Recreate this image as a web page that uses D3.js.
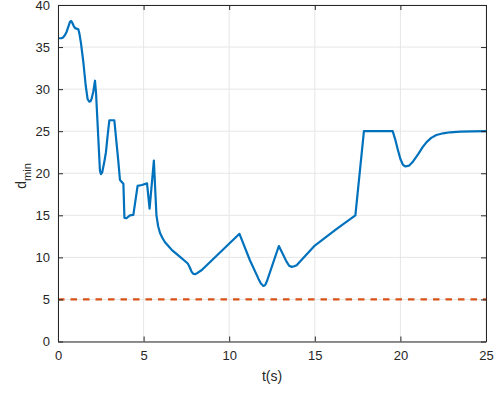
<!DOCTYPE html>
<html><head><meta charset="utf-8">
<script src="https://cdn.jsdelivr.net/npm/d3@7"></script>
<style>body{margin:0;background:#fff}svg{display:block}</style>
</head><body><svg id="c" width="496" height="416"></svg>
<script>
const timeS = [0,0.2,0.3,0.4,0.5,0.6,0.7,0.76,0.82,0.92,1.0,1.19,1.25,1.34,1.48,1.62,1.73,1.83,1.9,1.97,2.06,2.16,2.22,2.45,2.51,2.58,2.7,2.8,2.9,3.0,3.29,3.4,3.52,3.62,3.82,3.88,4.0,4.2,4.4,4.65,4.9,5.2,5.35,5.6,5.75,5.85,5.96,6.1,6.25,6.64,7.13,7.58,7.7,7.8,7.9,8.0,8.15,8.4,10.6,11.21,11.7,11.85,12.0,12.1,12.19,12.9,13.36,13.5,13.65,13.8,13.94,15.0,16.28,17.37,17.87,19.55,19.7,19.85,20.0,20.15,20.3,20.5,20.7,21.05,21.3,21.53,21.8,22.1,22.5,22.9,23.5,24.2,25];
const dMin = [36.05,36.05,36.15,36.4,36.8,37.4,38.0,38.1,37.95,37.5,37.25,37.1,36.6,35.5,33.2,30.4,28.8,28.5,28.55,28.9,29.7,31.0,29.6,20.3,19.9,20.1,21.3,22.5,24.5,26.3,26.3,24.0,21.5,19.2,18.75,14.7,14.65,15.0,15.05,18.5,18.6,18.8,15.8,21.5,15.0,13.7,12.9,12.3,11.8,10.9,10.05,9.27,8.8,8.3,8.05,8.0,8.15,8.5,12.8,9.66,7.5,6.9,6.6,6.7,7.1,11.35,9.46,9.0,8.87,8.95,9.07,11.4,13.4,15.0,25.0,25.0,24.0,22.8,21.7,21.0,20.8,20.9,21.3,22.3,23.1,23.7,24.2,24.55,24.75,24.87,24.95,24.98,25.0];
const safeDist = [5,5];
const safeT = [0,25];
const xTicks = [0,5,10,15,20,25];
const yTicks = [0,5,10,15,20,25,30,35,40];

const svg = d3.select("#c");
const L=58,R=486,T=5,B=341.5;
const x = d3.scaleLinear().domain([0,25]).range([L,R]);
const y = d3.scaleLinear().domain([0,40]).range([B,T]);
const axisCol="#262626", gridCol="#e6e6e6";
const font="'Liberation Sans', Arial, Helvetica, sans-serif";

// grid
svg.append("g").selectAll("line.gx").data(xTicks).join("line")
  .attr("x1",d=>x(d)).attr("x2",d=>x(d)).attr("y1",T).attr("y2",B)
  .attr("stroke",gridCol).attr("stroke-width",1);
svg.append("g").selectAll("line.gy").data(yTicks).join("line")
  .attr("x1",L).attr("x2",R).attr("y1",d=>y(d)).attr("y2",d=>y(d))
  .attr("stroke",gridCol).attr("stroke-width",1);

// data
const line = d3.line().x(d=>x(d[0])).y(d=>y(d[1]));
svg.append("path").datum(timeS.map((t,i)=>[t,dMin[i]]))
  .attr("d",line).attr("fill","none").attr("stroke","#0072BD")
  .attr("stroke-width",2.2).attr("stroke-linejoin","round");
svg.append("path").datum(safeT.map((t,i)=>[t,safeDist[i]]))
  .attr("d",line)
  .attr("fill","none").attr("stroke","#D95319").attr("stroke-width",2.2)
  .attr("stroke-dasharray","6.5,6");

// axes
function styleAxis(g){
  g.select(".domain").attr("stroke",axisCol);
  g.selectAll(".tick line").attr("stroke",axisCol);
  g.selectAll(".tick text").attr("fill",axisCol).style("font-family",font).style("font-size","13px");
}
svg.append("g").attr("transform",`translate(0,${B})`)
  .call(d3.axisBottom(x).tickValues(xTicks).tickSizeInner(-5).tickSizeOuter(0).tickPadding(9))
  .call(styleAxis);
svg.append("g").attr("transform",`translate(${L},0)`)
  .call(d3.axisLeft(y).tickValues(yTicks).tickSizeInner(-5).tickSizeOuter(0).tickPadding(8))
  .call(styleAxis);
svg.append("g").attr("transform",`translate(0,${T})`)
  .call(d3.axisTop(x).tickValues(xTicks).tickSizeInner(-5).tickSizeOuter(0).tickFormat(""))
  .call(styleAxis);
svg.append("g").attr("transform",`translate(${R},0)`)
  .call(d3.axisRight(y).tickValues(yTicks).tickSizeInner(-5).tickSizeOuter(0).tickFormat(""))
  .call(styleAxis);

// labels
svg.append("text").attr("x",(L+R)/2).attr("y",381).attr("text-anchor","middle")
  .style("font-family",font).style("font-size","14px").attr("fill",axisCol).text("t(s)");
const yl = svg.append("text").attr("transform","translate(26,176) rotate(-90)")
  .attr("text-anchor","middle").style("font-family",font).attr("fill",axisCol);
yl.append("tspan").style("font-size","14px").text("d");
yl.append("tspan").style("font-size","11px").attr("dy",5).text("min");
</script></body></html>
